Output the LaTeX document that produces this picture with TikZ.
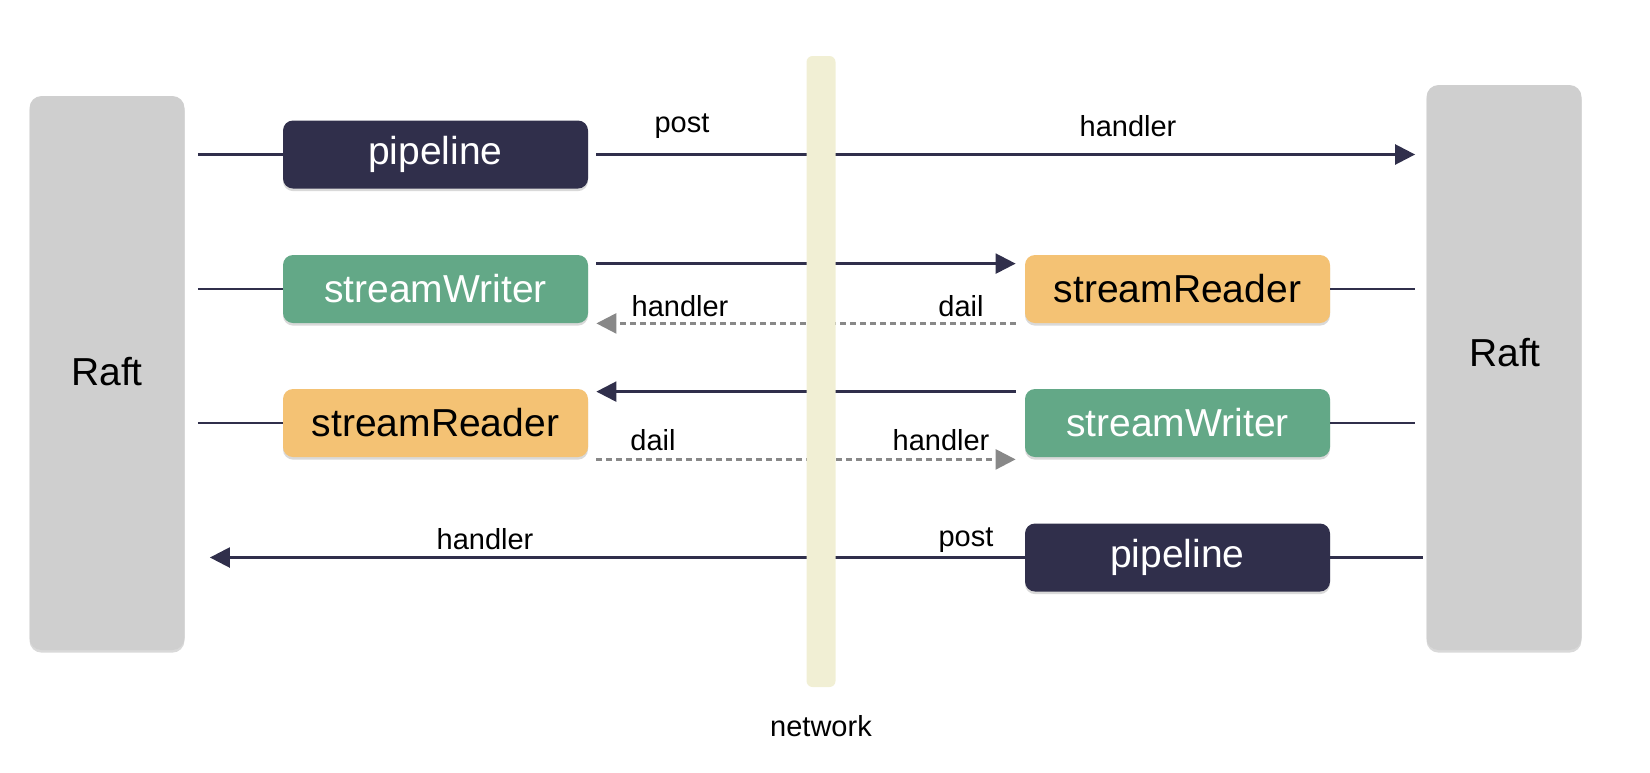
\documentclass[tikz,border=0pt]{standalone}
\usepackage{fontspec}
\setmainfont{Liberation Sans}
\usetikzlibrary{arrows.meta,shadows}

\definecolor{navy}{RGB}{48,47,75}
\definecolor{wgreen}{RGB}{99,168,135}
\definecolor{rorange}{RGB}{244,194,116}
\definecolor{raftgray}{RGB}{207,207,207}
\definecolor{netbar}{RGB}{241,239,212}
\definecolor{dialgray}{RGB}{136,136,136}

\tikzset{
  softshadow/.style={drop shadow={shadow xshift=0pt, shadow yshift=-1.3pt, opacity=.3}},
  box/.style={rounded corners=5pt, minimum width=152.5pt, minimum height=34pt,
    font=\fontsize{19.5}{23}\selectfont, softshadow},
  pipebox/.style={box, fill=navy, text=white},
  writerbox/.style={box, fill=wgreen, text=white},
  readerbox/.style={box, fill=rorange, text=black},
  raft/.style={fill=raftgray, rounded corners=6pt, minimum width=77.5pt, softshadow},
  raftlbl/.style={font=\fontsize{19.5}{23}\selectfont},
  wire/.style={draw=navy, line width=1.25pt},
  msg/.style={wire, -{Triangle[length=10pt,width=10pt]}},
  dialmsg/.style={draw=dialgray, line width=1.3pt, dash pattern=on 3pt off 2pt,
    -{Triangle[length=10pt,width=10pt]}},
  lbl/.style={font=\fontsize{14.5}{17}\selectfont},
}

\begin{document}
\begin{tikzpicture}[x=0.5pt, y=-0.5pt]
	\useasboundingbox (0,0) rectangle (1650,772);
	% the two Raft nodes
	\node[raft, minimum height=277pt] (raftL) at (107,373) {};
	\node[raft, minimum height=282.5pt] (raftR) at (1504,367.5) {};
	\node[raftlbl] (raftLtxt) at (107,372) {Raft};
	\node[raftlbl] (raftRtxt) at (1505,353) {Raft};
	% left side
	\node[pipebox] (pipeL) at (435.5,154.5) {pipeline};
	\node[writerbox] (writerL) at (435.5,289) {streamWriter};
	\node[readerbox] (readerL) at (435.5,423) {streamReader};
	% right side
	\node[readerbox] (readerR) at (1177.5,289) {streamReader};
	\node[writerbox] (writerR) at (1177.5,423) {streamWriter};
	\node[pipebox] (pipeR) at (1177.5,557.5) {pipeline};
	% wires to Raft
	\foreach \b in {pipeL,writerL,readerL}
		\draw[wire, shorten <=6.5pt] (raftL.east |- \b) -- (\b);
	\draw[wire, shorten >=5.5pt] (readerR) -- (raftR.west |- readerR);
	\draw[wire, shorten >=5.5pt] (writerR) -- (raftR.west |- writerR);
	\draw[wire, shorten >=1.5pt] (pipeR) -- (raftR.west |- pipeR);
	% messages
	\draw[msg, shorten <=4pt, shorten >=5.5pt] (pipeL.east) -- (raftR.west |- pipeL);
	\draw[msg, shorten <=4pt, shorten >=4.5pt]
		([yshift=-4.5pt]writerL.north east) -- ([yshift=-4.5pt]readerR.north west);
	\draw[dialmsg, shorten <=4.5pt, shorten >=4pt] (readerR.south west) -- (writerL.south east);
	\draw[msg, shorten <=4.5pt, shorten >=4pt]
		([yshift=-1.5pt]writerR.north west) -- ([yshift=-1.5pt]readerL.north east);
	\draw[dialmsg, shorten <=4pt, shorten >=4.5pt]
		([yshift=-1pt]readerL.south east) -- ([yshift=-1pt]writerR.south west);
	\draw[msg, shorten >=12.5pt] (pipeR) -- (raftL.east |- pipeR);
	% network
	\node[fill=netbar, rounded corners=3pt, minimum width=14.5pt, minimum height=315.5pt,
		inner sep=0pt] (net) at (821,371.5) {};
	\node[lbl] (netlbl) at (821,726) {network};
	% labels
	\node[lbl] (postA) at (682,126) {post};
	\node[lbl] (handlerA) at (1128,126) {handler};
	\node[lbl] (handlerB) at (680,306) {handler};
	\node[lbl] (dailB) at (961,306) {dail};
	\node[lbl] (dailC) at (653,440) {dail};
	\node[lbl] (handlerC) at (941,440) {handler};
	\node[lbl] (handlerD) at (485,539) {handler};
	\node[lbl] (postD) at (966,540) {post};
\end{tikzpicture}
\end{document}
